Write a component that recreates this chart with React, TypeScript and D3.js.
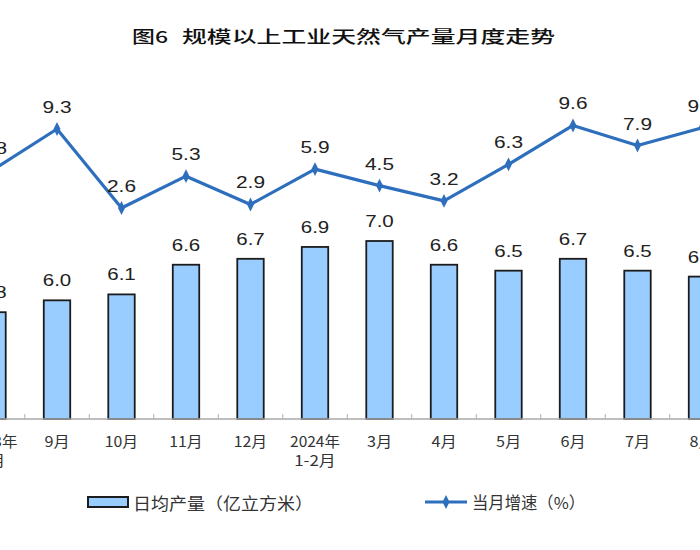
import React from "react";
import * as d3 from "d3";

const categories = [
  "2023年|8月",
  "9月",
  "10月",
  "11月",
  "12月",
  "2024年|1-2月",
  "3月",
  "4月",
  "5月",
  "6月",
  "7月",
  "8月",
];
const dailyOutput = [5.8, 6.0, 6.1, 6.6, 6.7, 6.9, 7.0, 6.6, 6.5, 6.7, 6.5, 6.4];
const monthlyGrowth = [5.8, 9.3, 2.6, 5.3, 2.9, 5.9, 4.5, 3.2, 6.3, 9.6, 7.9, 9.4];
const titleNum = "图6";
const titleText = "规模以上工业天然气产量月度走势";
const legendBar = "日均产量（亿立方米）";
const legendLine = "当月增速（%）";

const W = 700;
const H = 550;
const STEP = 64.5;
const FIRST_CENTER = -7.5;
const BASE_Y = 419;

const CJK = "Noto Sans CJK SC, sans-serif";
const LATIN = "Liberation Sans, Arial, sans-serif";

function labelWidth(s: string) {
  let w = 0;
  for (const ch of s) {
    if (/[0-9\-\.]/.test(ch)) w += 8.2;
    else w += 17;
  }
  return w;
}

export default function App() {
  const x = d3
    .scaleBand<string>()
    .domain(categories)
    .range([FIRST_CENTER - STEP / 2, FIRST_CENTER - STEP / 2 + STEP * categories.length])
    .paddingInner(0)
    .paddingOuter(0);
  const barW = STEP * 0.41;
  const cx = (c: string) => (x(c) as number) + x.bandwidth() / 2;

  const yBar = d3.scaleLinear().domain([4, 7]).range([BASE_Y, BASE_Y - 178]);
  const yLine = d3.scaleLinear().domain([2.6, 9.3]).range([208, 129]);

  const lineGen = d3
    .line<number>()
    .x((_, i) => cx(categories[i]))
    .y((d) => yLine(d));

  const diamond = d3.symbol().type(d3.symbolDiamond).size(42)() as string;
  const lineColor = "#2e6fbd";
  const barFill = "#99ccff";
  const barStroke = "#1c1c1c";

  const boundaries = categories
    .map((c) => x(c) as number)
    .concat([(x(categories[categories.length - 1]) as number) + STEP]);

  return (
    <svg
      width={W}
      height={H}
      style={{ position: "absolute", left: 0, top: 0, background: "#fff" }}
    >
      <rect x={0} y={0} width={W} height={H} fill="#fff" />
      {/* Title */}
      <text
        x={132}
        y={35.5}
        dominantBaseline="central"
        fontFamily={CJK}
        fontWeight={500}
        fontSize={16.5}
        fill="#111"
        textLength={36}
        lengthAdjust="spacingAndGlyphs"
      >
        {titleNum}
      </text>
      <text
        x={182}
        y={35.5}
        dominantBaseline="central"
        fontFamily={CJK}
        fontWeight={500}
        fontSize={16.5}
        fill="#111"
        textLength={373}
        lengthAdjust="spacingAndGlyphs"
      >
        {titleText}
      </text>

      {/* Bars */}
      {dailyOutput.map((v, i) => {
        const c = categories[i];
        return (
          <g key={"b" + i}>
            <rect
              x={cx(c) - barW / 2}
              y={yBar(v)}
              width={barW}
              height={BASE_Y - yBar(v)}
              fill={barFill}
              stroke={barStroke}
              strokeWidth={1.8}
            />
            <text
              x={cx(c)}
              y={yBar(v) - 14}
              textAnchor="middle"
              fontFamily={LATIN}
              fontSize={17}
              fill="#222"
              textLength={28.5}
              lengthAdjust="spacingAndGlyphs"
            >
              {v.toFixed(1)}
            </text>
          </g>
        );
      })}

      {/* Axis */}
      <line x1={0} x2={W} y1={BASE_Y} y2={BASE_Y} stroke="#a8a8a8" strokeWidth={1.5} />
      {boundaries.map((b, i) => (
        <line key={"t" + i} x1={b} x2={b} y1={BASE_Y} y2={BASE_Y - 5} stroke="#b0b0b0" strokeWidth={1} />
      ))}
      {categories.map((c, i) => {
        const parts = c.split("|");
        return (
          <g key={"l" + i}>
            {parts.map((p, j) => (
              <text
                key={j}
                x={cx(c)}
                y={440 + j * 19.5}
                textAnchor="middle"
                dominantBaseline="central"
                fontFamily={CJK}
                fontSize={15}
                fill="#333"
                textLength={labelWidth(p)}
                lengthAdjust="spacingAndGlyphs"
              >
                {p}
              </text>
            ))}
          </g>
        );
      })}

      {/* Line */}
      <path d={lineGen(monthlyGrowth) as string} fill="none" stroke={lineColor} strokeWidth={3.2} strokeLinejoin="round" />
      {monthlyGrowth.map((v, i) => {
        const c = categories[i];
        return (
          <g key={"p" + i}>
            <path d={diamond} transform={`translate(${cx(c)},${yLine(v)}) scale(1,1.15)`} fill={lineColor} />
            <text
              x={cx(c)}
              y={yLine(v) - 16}
              textAnchor="middle"
              fontFamily={LATIN}
              fontSize={17}
              fill="#222"
              textLength={29}
              lengthAdjust="spacingAndGlyphs"
            >
              {v.toFixed(1)}
            </text>
          </g>
        );
      })}

      {/* Legend */}
      <rect x={88} y={497} width={40} height={10} fill={barFill} stroke={barStroke} strokeWidth={2} />
      <text
        x={133}
        y={502.5}
        dominantBaseline="central"
        fontFamily={CJK}
        fontSize={16.5}
        fill="#333"
        textLength={180}
        lengthAdjust="spacingAndGlyphs"
      >
        {legendBar}
      </text>
      <line x1={425} x2={467} y1={502} y2={502} stroke={lineColor} strokeWidth={3.2} />
      <path d={diamond} transform={`translate(446,502) scale(1,1.15)`} fill={lineColor} />
      <text
        x={472}
        y={502}
        dominantBaseline="central"
        fontFamily={CJK}
        fontSize={16.5}
        fill="#333"
        textLength={113}
        lengthAdjust="spacingAndGlyphs"
      >
        {legendLine}
      </text>
    </svg>
  );
}
